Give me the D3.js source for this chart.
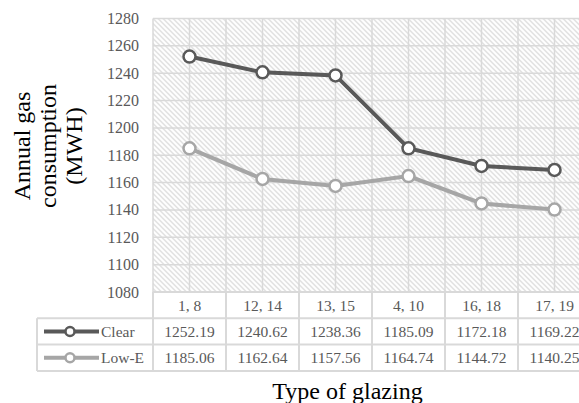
<!DOCTYPE html>
<html>
<head>
<meta charset="utf-8">
<script src="https://cdn.jsdelivr.net/npm/d3@7"></script>
<style>
  body { margin: 0; background: #fff; }
  svg { display: block; font-family: "Liberation Serif", "Times New Roman", serif; }
</style>
</head>
<body>
<script>
var width = 579;
var height = 403;

// chart data
var categories = ["1, 8", "12, 14", "13, 15", "4, 10", "16, 18", "17, 19"];
var clearValues = [1252.19, 1240.62, 1238.36, 1185.09, 1172.18, 1169.22];
var lowEValues = [1185.06, 1162.64, 1157.56, 1164.74, 1144.72, 1140.25];
var yTicks = [1080, 1100, 1120, 1140, 1160, 1180, 1200, 1220, 1240, 1260, 1280];

var series = [
  { name: "Clear", values: clearValues, color: "#595959" },
  { name: "Low-E", values: lowEValues, color: "#a6a6a6" }
];

var margin = { top: 18.5, left: 153, tableLeft: 37 };
var plotWidth = 438;
var plotHeight = 273.5;
var rowHeight = 26.3;

var svg = d3.select("body").append("svg")
  .attr("width", width)
  .attr("height", height);

// diagonal hatch fill of the plot area
var pattern = svg.append("defs").append("pattern")
  .attr("id", "hatch")
  .attr("patternUnits", "userSpaceOnUse")
  .attr("width", 5)
  .attr("height", 5);
pattern.append("rect").attr("width", 5).attr("height", 5).attr("fill", "#fff");
pattern.append("path")
  .attr("d", "M-1,-1 L6,6 M-1,4 L1,6 M4,-1 L6,1")
  .attr("stroke", "#d4d4d4")
  .attr("stroke-width", 1.1);

var g = svg.append("g").attr("transform", `translate(${margin.left}, ${margin.top})`);

var x = d3.scaleBand().domain(categories).range([0, plotWidth]);
var y = d3.scaleLinear().domain([1080, 1280]).range([plotHeight, 0]);

g.append("rect")
  .attr("width", plotWidth)
  .attr("height", plotHeight)
  .attr("fill", "url(#hatch)");

// horizontal gridlines
g.selectAll(".hgrid")
  .data(yTicks)
  .enter().append("line")
  .attr("x1", 0).attr("x2", plotWidth)
  .attr("y1", d => y(d)).attr("y2", d => y(d))
  .attr("stroke", "#d9d9d9")
  .attr("stroke-width", 1.5);

// vertical gridlines at category edges and centres
var vLines = [];
categories.forEach(function(c) {
  vLines.push(x(c));
  vLines.push(x(c) + x.bandwidth() / 2);
});
vLines.push(plotWidth);
g.selectAll(".vgrid")
  .data(vLines)
  .enter().append("line")
  .attr("x1", d => d).attr("x2", d => d)
  .attr("y1", 0).attr("y2", plotHeight)
  .attr("stroke", "#d9d9d9")
  .attr("stroke-width", 1.5);

// y axis tick labels
g.selectAll(".ytick")
  .data(yTicks)
  .enter().append("text")
  .attr("x", -14)
  .attr("y", d => y(d) + 5.5)
  .attr("text-anchor", "end")
  .attr("fill", "#595959")
  .style("font-size", "16px")
  .text(d => d);

// lines and markers
var line = d3.line()
  .x((d, i) => x(categories[i]) + x.bandwidth() / 2)
  .y(d => y(d));

series.forEach(function(s) {
  g.append("path")
    .datum(s.values)
    .attr("d", line)
    .attr("fill", "none")
    .attr("stroke", s.color)
    .attr("stroke-width", 4);

  g.selectAll(".pt-" + s.name)
    .data(s.values)
    .enter().append("circle")
    .attr("cx", (d, i) => x(categories[i]) + x.bandwidth() / 2)
    .attr("cy", d => y(d))
    .attr("r", 6)
    .attr("fill", "#fff")
    .attr("stroke", s.color)
    .attr("stroke-width", 2.5);
});

// data table below the plot
var table = g.append("g").attr("transform", `translate(0, ${plotHeight})`);
var border = "#d9d9d9";

// header row with category names
table.selectAll(".head")
  .data(categories)
  .enter().append("text")
  .attr("x", d => x(d) + x.bandwidth() / 2)
  .attr("y", rowHeight / 2 + 5.5)
  .attr("text-anchor", "middle")
  .attr("fill", "#595959")
  .style("font-size", "15.5px")
  .text(d => d);

series.forEach(function(s, r) {
  var rowY = rowHeight * (r + 1);
  table.selectAll(".cell-" + s.name)
    .data(s.values)
    .enter().append("text")
    .attr("x", (d, i) => x(categories[i]) + x.bandwidth() / 2)
    .attr("y", rowY + rowHeight / 2 + 5.5)
    .attr("text-anchor", "middle")
    .attr("fill", "#595959")
    .style("font-size", "15.5px")
    .text(d => d.toFixed(2));

  // legend key
  var lx = margin.tableLeft - margin.left;
  var ly = rowY + rowHeight / 2;
  table.append("line")
    .attr("x1", lx + 7).attr("x2", lx + 62)
    .attr("y1", ly).attr("y2", ly)
    .attr("stroke", s.color).attr("stroke-width", 4);
  table.append("circle")
    .attr("cx", lx + 33).attr("cy", ly).attr("r", 4.5)
    .attr("fill", "#fff").attr("stroke", s.color).attr("stroke-width", 2.5);
  table.append("text")
    .attr("x", lx + 64)
    .attr("y", ly + 5.5)
    .attr("fill", "#595959")
    .style("font-size", "15.5px")
    .text(s.name);
});

// table borders
var tl = margin.tableLeft - margin.left;
[0, 1, 2, 3].forEach(function(r) {
  table.append("line")
    .attr("x1", r === 0 ? 0 : tl).attr("x2", plotWidth)
    .attr("y1", rowHeight * r).attr("y2", rowHeight * r)
    .attr("stroke", border).attr("stroke-width", 2);
});
table.append("line")
  .attr("x1", tl).attr("x2", tl)
  .attr("y1", rowHeight).attr("y2", rowHeight * 3)
  .attr("stroke", border).attr("stroke-width", 2);
table.selectAll(".colsep")
  .data(categories.concat(["end"]))
  .enter().append("line")
  .attr("x1", d => d === "end" ? plotWidth : x(d))
  .attr("x2", d => d === "end" ? plotWidth : x(d))
  .attr("y1", 0).attr("y2", rowHeight * 3)
  .attr("stroke", border).attr("stroke-width", 2);

// axis titles
svg.append("text")
  .attr("x", 347.5)
  .attr("y", 399)
  .attr("text-anchor", "middle")
  .attr("fill", "#000")
  .style("font-size", "24px")
  .text("Type of glazing");

var yTitle = svg.append("text")
  .attr("transform", "translate(0, 146) rotate(-90)")
  .attr("text-anchor", "middle")
  .attr("fill", "#000")
  .style("font-size", "24px");
["Annual gas", "consumption", "(MWH)"].forEach(function(t, i) {
  yTitle.append("tspan")
    .attr("x", 0)
    .attr("y", 30 + i * 26)
    .text(t);
});
</script>
</body>
</html>
